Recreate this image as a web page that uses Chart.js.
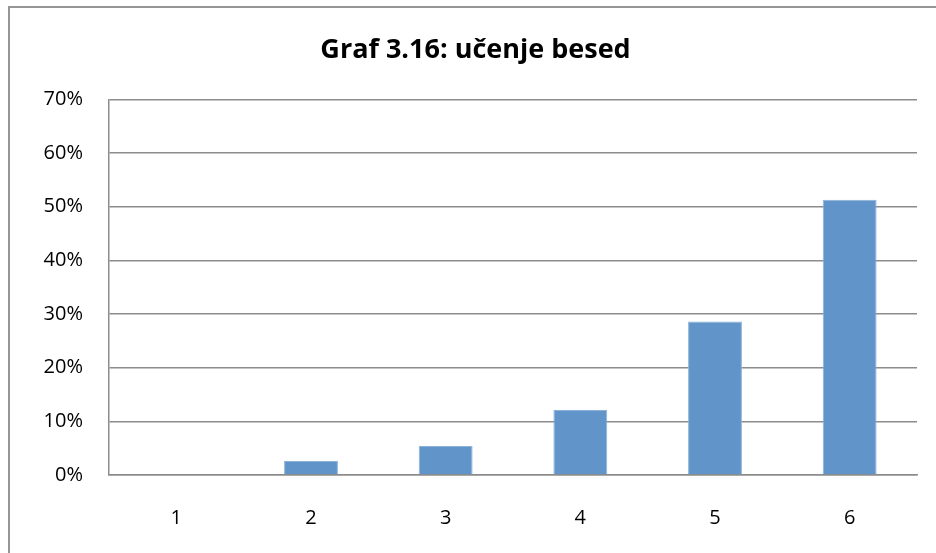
<!DOCTYPE html>
<html>
<head>
<meta charset="utf-8">
<script src="https://cdn.jsdelivr.net/npm/chart.js@4"></script>
<style>
  html, body { margin: 0; padding: 0; background: #fff; overflow: hidden; }
  #wrap { position: relative; width: 936px; height: 553px; }
  #frame { position: absolute; left: 8px; top: 6px; width: 1000px; height: 600px;
           border-left: 2px solid #969696; border-top: 2px solid #969696; box-sizing: border-box; }
  canvas { position: absolute; left: 0; top: 0; }
</style>
</head>
<body>
<div id="wrap">
  <div id="frame"></div>
  <canvas id="c" width="936" height="553"></canvas>
</div>
<script>
const categories = ['1', '2', '3', '4', '5', '6'];
const values = [0, 2.6, 5.4, 12.1, 28.6, 51.3];
const yTicks = [0, 10, 20, 30, 40, 50, 60, 70];
const chartTitle = 'Graf 3.16: učenje besed';

new Chart(document.getElementById('c'), {
  type: 'bar',
  data: {
    labels: categories,
    datasets: [{
      data: values,
      backgroundColor: '#6195C9',
      borderColor: '#8DB2DA',
      borderWidth: 1,
      barPercentage: 0.4,
      categoryPercentage: 1
    }]
  },
  options: {
    responsive: false,
    animation: false,
    layout: { padding: { left: 34, right: 19, top: 0, bottom: 0 } },
    plugins: {
      legend: { display: false },
      tooltip: { enabled: false },
      title: {
        display: true,
        text: chartTitle,
        color: '#000',
        font: { family: 'Open Sans', size: 27, weight: 'bold', lineHeight: 1.2 },
        padding: { top: 34, bottom: 33 }
      }
    },
    scales: {
      x: {
        grid: { display: false, drawTicks: false },
        border: { display: true, color: '#8C8C8C', width: 1.5 },
        ticks: { color: '#000', font: { family: 'Open Sans', size: 20 }, padding: 31 },
        afterFit: s => { s.height = 78; }
      },
      y: {
        min: 0, max: 70,
        afterBuildTicks: s => { s.ticks = yTicks.map(v => ({ value: v })); },
        grid: { color: '#8C8C8C', lineWidth: 1.5, drawTicks: false },
        border: { display: true, color: '#8C8C8C', width: 1.5 },
        ticks: { color: '#000', font: { family: 'Open Sans', size: 20 }, padding: 26,
                 callback: v => v + '%' },
        afterFit: s => { s.width = 75; }
      }
    }
  }
});
</script>
</body>
</html>
